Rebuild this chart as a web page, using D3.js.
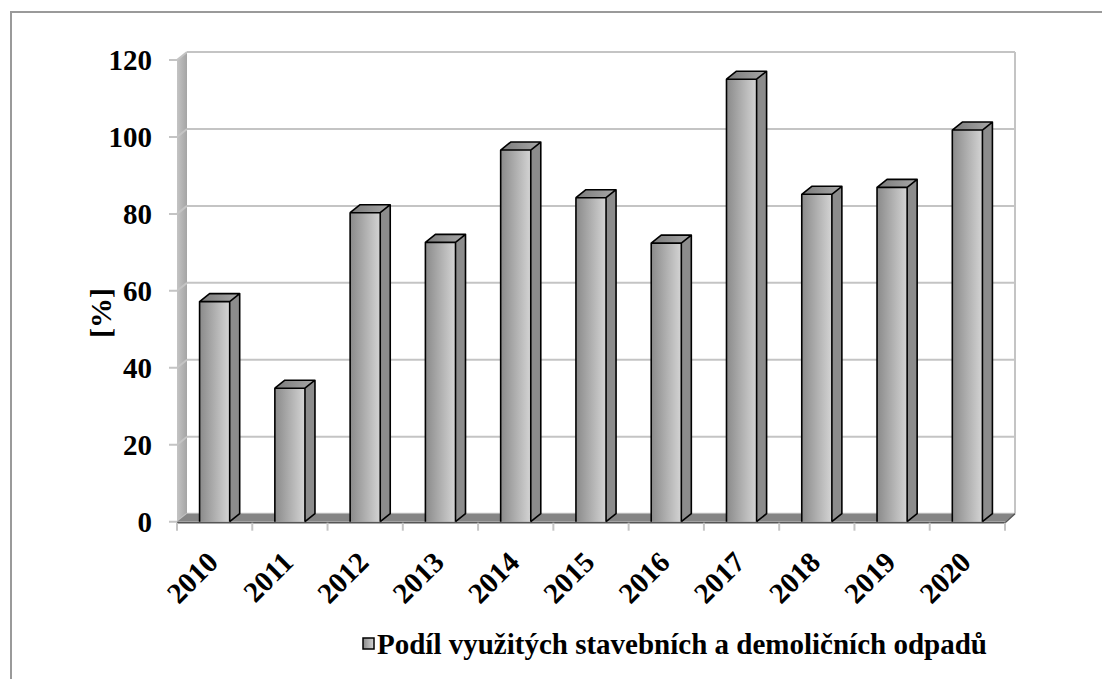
<!DOCTYPE html>
<html lang="cs">
<head>
    <meta charset="UTF-8">
    <title>Podíl využitých stavebních a demoličních odpadů</title>
    <style>
        body, html {
            margin: 0;
            padding: 0;
            background: #fff;
        }
        svg text {
            font-family: "Liberation Serif", "Times New Roman", serif;
            font-weight: bold;
            fill: #000;
        }
    </style>
</head>
<body>
<div id="chart"></div>
<script src="https://d3js.org/d3.v7.min.js"></script>
<script>
    // data
    const years = ["2010", "2011", "2012", "2013", "2014", "2015", "2016", "2017", "2018", "2019", "2020"];
    const shares = [57.2, 34.7, 80.3, 72.6, 96.6, 84.2, 72.4, 115.0, 85.1, 86.9, 101.8];
    const yTicks = [0, 20, 40, 60, 80, 100, 120];
    const seriesName = "Podíl využitých stavebních a demoličních odpadů";
    const axisTitle = "[%]";

    const width = 1102, height = 679;
    const depth = { dx: 10, dy: -8 };   // 3D offset of the back wall

    const svg = d3.select("#chart").append("svg")
        .attr("width", width)
        .attr("height", height);

    const defs = svg.append("defs");
    const frontGrad = defs.append("linearGradient").attr("id", "barFront")
        .attr("x1", "0%").attr("x2", "100%").attr("y1", "0%").attr("y2", "0%");
    frontGrad.append("stop").attr("offset", "0%").attr("stop-color", "#8a8a8a");
    frontGrad.append("stop").attr("offset", "100%").attr("stop-color", "#d4d4d4");
    const topGrad = defs.append("linearGradient").attr("id", "barTop")
        .attr("x1", "0%").attr("x2", "100%").attr("y1", "0%").attr("y2", "0%");
    topGrad.append("stop").attr("offset", "0%").attr("stop-color", "#7a7a7a");
    topGrad.append("stop").attr("offset", "100%").attr("stop-color", "#a8a8a8");
    const wallGrad = defs.append("linearGradient").attr("id", "sideWall")
        .attr("x1", "0%").attr("x2", "100%").attr("y1", "0%").attr("y2", "0%");
    wallGrad.append("stop").attr("offset", "0%").attr("stop-color", "#c4c4c4");
    wallGrad.append("stop").attr("offset", "100%").attr("stop-color", "#a4a4a4");

    // chart area border (cut off at right and bottom)
    svg.append("path")
        .attr("d", `M11,${height} L11,12 L${width},12`)
        .attr("fill", "none")
        .attr("stroke", "#9a9a9a")
        .attr("stroke-width", 2);

    const x = d3.scaleBand()
        .domain(years)
        .range([177, 1005])
        .paddingInner(0.6)
        .paddingOuter(0.3);

    const y = d3.scaleLinear()
        .domain([0, 120])
        .range([521.7, 60]);

    const x0 = 177, x1 = 1005;
    const line = d3.line();

    // back wall gridlines
    const grid = svg.append("g");
    yTicks.forEach(t => {
        const yb = y(t) + depth.dy;
        grid.append("path")
            .attr("d", line([[x0 + depth.dx, yb], [x1 + depth.dx, yb]]))
            .attr("stroke", "#c4c4c4").attr("stroke-width", 2).attr("fill", "none");
    });
    grid.append("path")
        .attr("d", line([[x1 + depth.dx, y(120) + depth.dy], [x1 + depth.dx, y(0) + depth.dy]]))
        .attr("stroke", "#c4c4c4").attr("stroke-width", 2).attr("fill", "none");

    // side wall with gridline diagonals and tick marks
    svg.append("path")
        .attr("d", line([[x0, y(0)], [x0, y(120)], [x0 + depth.dx, y(120) + depth.dy], [x0 + depth.dx, y(0) + depth.dy]]) + "Z")
        .attr("fill", "url(#sideWall)");
    yTicks.forEach(t => {
        svg.append("path")
            .attr("d", line([[x0 - 8, y(t)], [x0, y(t)], [x0 + depth.dx, y(t) + depth.dy]]))
            .attr("stroke", "#c4c4c4").attr("stroke-width", 2).attr("fill", "none");
    });

    // floor
    svg.append("path")
        .attr("d", line([[x0, y(0)], [x1, y(0)], [x1 + depth.dx, y(0) + depth.dy], [x0 + depth.dx, y(0) + depth.dy]]) + "Z")
        .attr("fill", "#858585");
    svg.append("path")
        .attr("d", line([[x0, y(0) + 1], [x1, y(0) + 1], [x1 + depth.dx, y(0) + depth.dy]]))
        .attr("stroke", "#555").attr("stroke-width", 1.5).attr("fill", "none");

    // category tick marks below the floor
    const step = x.step();
    d3.range(years.length + 1).forEach(i => {
        const tx = x0 + i * step;
        svg.append("line")
            .attr("x1", tx).attr("x2", tx)
            .attr("y1", y(0) + 1).attr("y2", y(0) + 9)
            .attr("stroke", "#c4c4c4").attr("stroke-width", 2);
    });

    // bars
    const bars = svg.append("g").selectAll("g")
        .data(years.map((yr, i) => ({ yr, v: shares[i] })))
        .join("g");

    bars.each(function (d) {
        const g = d3.select(this);
        const bx0 = x(d.yr), bx1 = x(d.yr) + x.bandwidth();
        const yt = y(d.v), yb = y(0);
        g.append("path")
            .attr("d", line([[bx1, yb], [bx1, yt], [bx1 + depth.dx, yt + depth.dy], [bx1 + depth.dx, yb + depth.dy]]) + "Z")
            .attr("fill", "#8c8c8c");
        g.append("path")
            .attr("d", line([[bx0, yt], [bx1, yt], [bx1 + depth.dx, yt + depth.dy], [bx0 + depth.dx, yt + depth.dy]]) + "Z")
            .attr("fill", "url(#barTop)");
        g.append("rect")
            .attr("x", bx0).attr("y", yt)
            .attr("width", bx1 - bx0).attr("height", yb - yt)
            .attr("fill", "url(#barFront)");
        // outline
        g.append("path")
            .attr("d", line([[bx0, yb], [bx0, yt], [bx1, yt], [bx1, yb]]) +
                line([[bx0, yt], [bx0 + depth.dx, yt + depth.dy], [bx1 + depth.dx, yt + depth.dy], [bx1 + depth.dx, yb + depth.dy], [bx1, yb]]) +
                line([[bx1, yt], [bx1 + depth.dx, yt + depth.dy]]))
            .attr("stroke", "#000").attr("stroke-width", 1.6)
            .attr("stroke-linejoin", "round")
            .attr("fill", "none");
    });

    // y tick labels
    svg.append("g").selectAll("text")
        .data(yTicks)
        .join("text")
        .attr("x", 152)
        .attr("y", d => y(d))
        .attr("dy", "0.35em")
        .attr("text-anchor", "end")
        .style("font-size", "29px")
        .text(d => d);

    // x tick labels, rotated
    svg.append("g").selectAll("text")
        .data(years)
        .join("text")
        .attr("text-anchor", "end")
        .attr("transform", d => `translate(${x(d) + x.bandwidth() / 2 - 2},${y(0) + 35}) rotate(-45)`)
        .attr("dy", "0.35em")
        .style("font-size", "29px")
        .text(d => d);

    // axis title
    svg.append("text")
        .attr("transform", "translate(100,313) rotate(-90)")
        .attr("text-anchor", "middle")
        .attr("dy", "0.35em")
        .style("font-size", "30px")
        .text(axisTitle);

    // legend
    const legend = svg.append("g").attr("transform", "translate(363,638)");
    legend.append("rect")
        .attr("width", 11).attr("height", 11)
        .attr("fill", "url(#barFront)")
        .attr("stroke", "#000").attr("stroke-width", 1.5);
    legend.append("text")
        .attr("x", 14).attr("y", 16)
        .style("font-size", "29px")
        .text(seriesName);
</script>
</body>
</html>
